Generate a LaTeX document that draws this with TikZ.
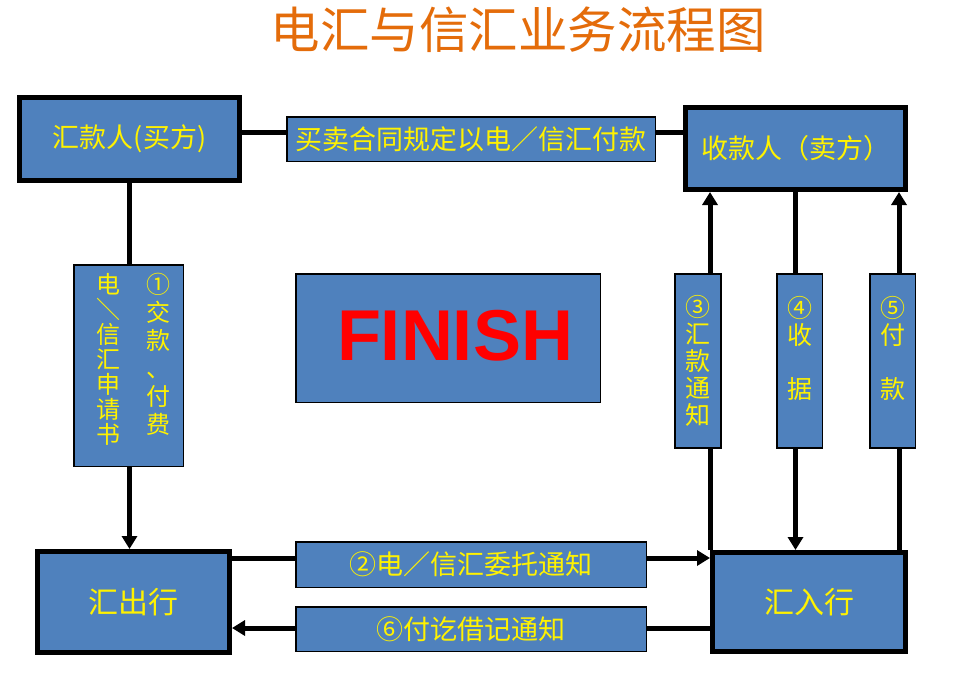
\documentclass[tikz,border=0pt]{standalone}
\usepackage{fontspec}
\usepackage{xcolor}
\usepackage{tikz}
\usetikzlibrary{arrows.meta}
\newfontfamily\cjk{Noto Sans CJK SC}
\newfontfamily\latin{Liberation Sans}
\definecolor{boxblue}{HTML}{4F81BD}
\definecolor{titleorange}{HTML}{E46C0A}

\begin{document}
\begin{tikzpicture}[x=1pt, y=-1pt,
  party/.style={draw, line width=5pt, fill=boxblue, text=yellow, font=\cjk\fontsize{27}{30}\selectfont, inner sep=0pt},
  tag/.style={draw, line width=1.5pt, fill=boxblue, text=yellow, font=\cjk\fontsize{27}{30}\selectfont, inner sep=0pt},
  vtag/.style={tag, align=center, minimum width=46pt, minimum height=174pt, font=\cjk\fontsize{25}{27}\selectfont},
  vtext/.style={align=center, text=yellow, inner sep=0pt, anchor=north},
  link/.style={line width=5pt},
  arr/.style={link, -{Triangle[width=15pt,length=13pt]}}]
\useasboundingbox (0,0) rectangle (966,672);
\node [text=titleorange, font=\cjk\fontsize{49.5}{52}\selectfont] (title) at (518,30) {电汇与信汇业务流程图};
\node [party, minimum width=220pt, minimum height=83pt] (buyer) at (129.5,139) {汇款人(买方)};
\node [party, minimum width=220pt, minimum height=82pt] (seller) at (795.5,148.5) {收款人（卖方）};
\node [party, minimum width=192pt, minimum height=101pt, font=\cjk\fontsize{30}{32}\selectfont] (outbank) at (133.5,602) {汇出行};
\node [party, minimum width=193pt, minimum height=99pt, font=\cjk\fontsize{30}{32}\selectfont] (inbank) at (809,602) {汇入行};
\coordinate (c0) at ([yshift=-37pt]buyer.north east);
\coordinate (c2) at ([yshift=-9pt]outbank.north east);
\coordinate (c6) at ([yshift=27pt]outbank.south east);
\coordinate (c5) at ([xshift=-9pt]inbank.north east);
\draw [link] (c0) -- (c0 -| seller.west);
\draw [arr] (buyer.south) -- (buyer.south |- outbank.north);
\draw [arr] (c2) -- (c2 -| inbank.west);
\draw [arr] (c6 -| inbank.west) -- (c6);
\draw [arr] (inbank.north west) -- (inbank.north west |- seller.south);
\draw [arr] (seller.south) -- (seller.south |- inbank.north);
\draw [arr] (c5) -- (c5 |- seller.south);
\node [tag, minimum width=368.5pt, minimum height=44.5pt] (contract) at (471,139) {买卖合同规定以电／信汇付款};
\node [tag, minimum width=350.5pt, minimum height=45.5pt] (order) at (471,564.5) {②电／信汇委托通知};
\node [tag, minimum width=350.5pt, minimum height=44.5pt] (debit) at (471,629) {⑥付讫借记通知};
\node [tag, minimum width=109.5pt, minimum height=201.5pt] (apply) at (128.5,365.5) {};
\node [vtext, font=\cjk\fontsize{24}{25}\selectfont] (apply1) at (108,273) {电\\＼\\信\\汇\\申\\请\\书};
\node [vtext, font=\cjk\fontsize{24}{28}\selectfont] (apply2) at (158,273) {①\\交\\款\\、\\付\\费};
\node [vtag] (advice) at (698,361) {③\\汇\\款\\通\\知};
\node [vtag, minimum width=45.5pt] (receipt) at (799.5,361) {④\\收\\[27pt]据\\ \mbox{}};
\node [vtag, minimum width=45.5pt] (payment) at (892.5,361) {⑤\\付\\[27pt]款\\ \mbox{}};
\node [draw, line width=1.5pt, fill=boxblue, minimum width=304.5pt, minimum height=128.5pt, text=red, font=\latin\bfseries\fontsize{72}{72}\selectfont] (finish) at (448,338) {\hspace*{14pt}\raisebox{5pt}{FINISH}};
\end{tikzpicture}
\end{document}
